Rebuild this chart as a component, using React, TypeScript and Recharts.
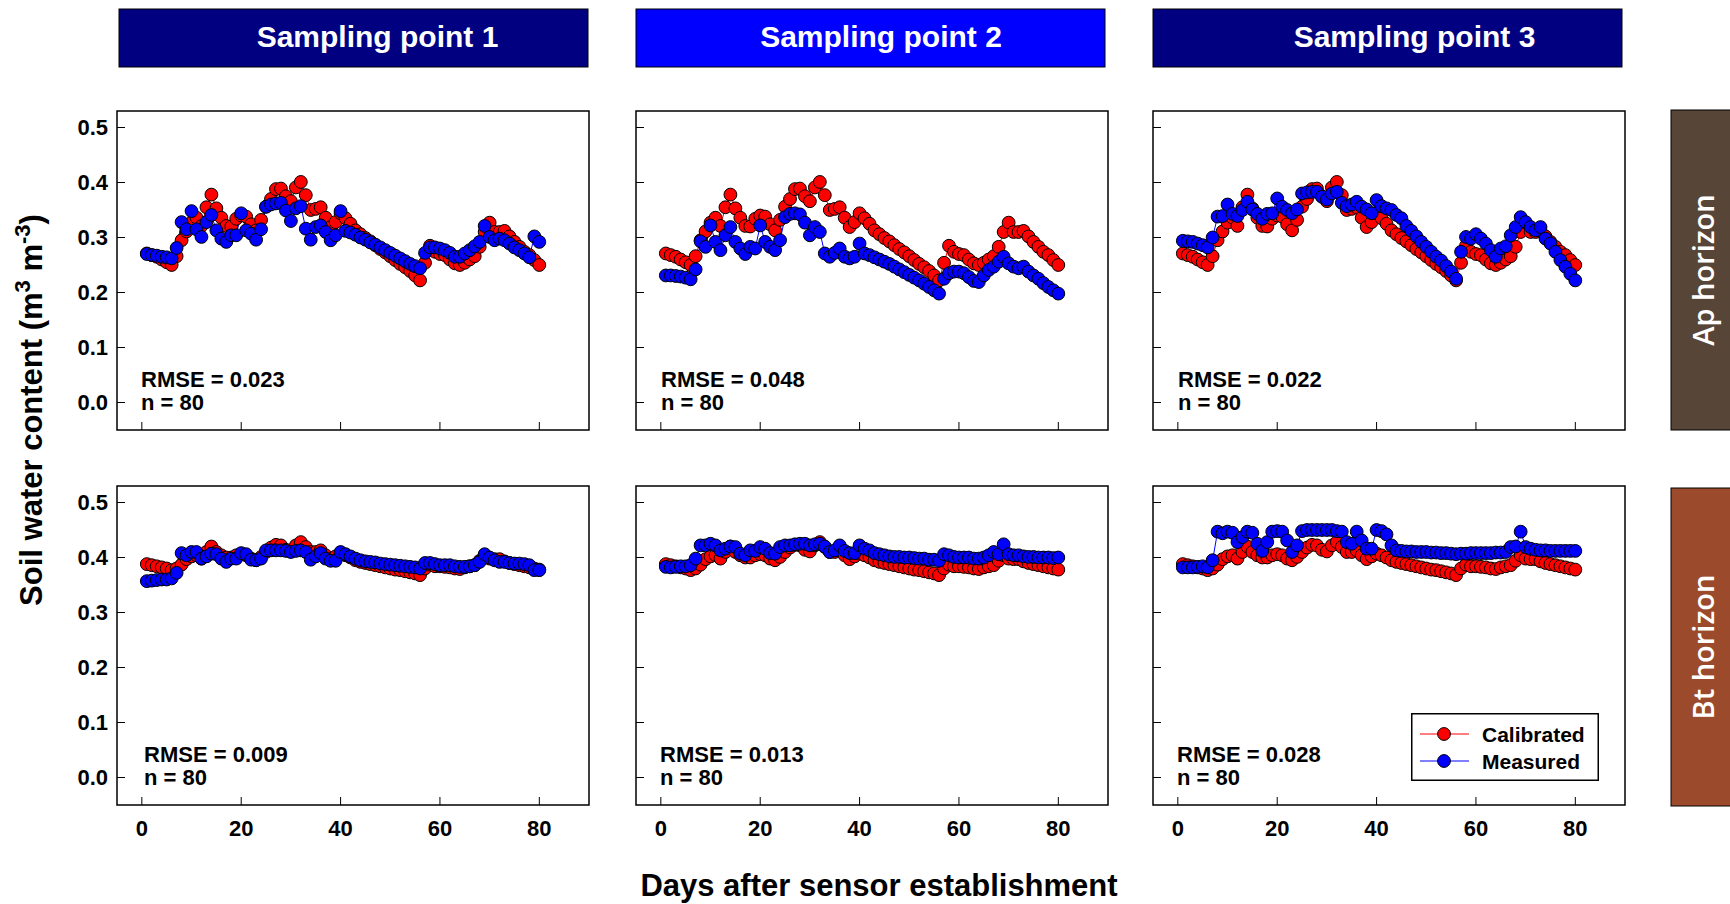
import { Legend, Line, LineChart, ReferenceArea, XAxis, YAxis } from "recharts";

// Days after sensor establishment (x values shared by every panel)
const days = Array.from({ length: 80 }, (_, i) => i + 1);
const dayTicks = [0, 20, 40, 60, 80];
const waterTicks = [0, 0.1, 0.2, 0.3, 0.4, 0.5];

const samplingPoints = ["Sampling point 1", "Sampling point 2", "Sampling point 3"];
const horizons = ["Ap horizon", "Bt horizon"];
const sampleSize = 80;
const apRmse = ["0.023", "0.048", "0.022"];
const btRmse = ["0.009", "0.013", "0.028"];

// Ap horizon, calibrated model (same curve at all three sampling points)
const apCalibrated = [
	0.271, 0.268, 0.265, 0.26, 0.255, 0.25, 0.266, 0.295, 0.311, 0.327,
	0.336, 0.321, 0.355, 0.378, 0.353, 0.336, 0.321, 0.32, 0.334, 0.34,
	0.338, 0.324, 0.313, 0.332, 0.356, 0.37, 0.388, 0.389, 0.375, 0.366,
	0.391, 0.401, 0.377, 0.35, 0.352, 0.355, 0.336, 0.319, 0.328, 0.344,
	0.335, 0.325, 0.313, 0.306, 0.299, 0.293, 0.286, 0.279, 0.273, 0.266,
	0.259, 0.252, 0.246, 0.239, 0.231, 0.222, 0.254, 0.285, 0.274, 0.27,
	0.268, 0.26, 0.253, 0.25, 0.254, 0.26, 0.266, 0.283, 0.31, 0.327,
	0.31, 0.31, 0.312, 0.302, 0.292, 0.283, 0.274, 0.268, 0.259, 0.25,
];

// Ap horizon, sensor readings
const apMeasured1 = [
	0.27, 0.268, 0.267, 0.265, 0.264, 0.262, 0.281, 0.328, 0.315, 0.348,
	0.315, 0.301, 0.328, 0.341, 0.313, 0.298, 0.292, 0.304, 0.304, 0.344,
	0.313, 0.307, 0.296, 0.315, 0.356, 0.36, 0.362, 0.363, 0.349, 0.33,
	0.353, 0.357, 0.316, 0.296, 0.319, 0.322, 0.31, 0.295, 0.304, 0.348,
	0.312, 0.309, 0.305, 0.3, 0.296, 0.291, 0.287, 0.282, 0.277, 0.272,
	0.267, 0.262, 0.257, 0.252, 0.248, 0.244, 0.272, 0.282, 0.282, 0.28,
	0.277, 0.272, 0.265, 0.265, 0.271, 0.277, 0.284, 0.292, 0.321, 0.301,
	0.295, 0.298, 0.295, 0.289, 0.282, 0.277, 0.271, 0.264, 0.302, 0.292,
];
const apMeasured2 = [
	0.231, 0.231, 0.23, 0.229, 0.227, 0.224, 0.242, 0.293, 0.283, 0.322,
	0.292, 0.277, 0.304, 0.319, 0.292, 0.28, 0.27, 0.283, 0.28, 0.322,
	0.292, 0.283, 0.277, 0.295, 0.337, 0.343, 0.344, 0.342, 0.327, 0.304,
	0.319, 0.31, 0.271, 0.265, 0.272, 0.28, 0.265, 0.262, 0.265, 0.289,
	0.271, 0.268, 0.264, 0.26, 0.256, 0.252, 0.247, 0.242, 0.237, 0.232,
	0.227, 0.222, 0.216, 0.21, 0.204, 0.198, 0.225, 0.235, 0.238, 0.238,
	0.235, 0.228, 0.221, 0.219, 0.231, 0.241, 0.247, 0.256, 0.265, 0.253,
	0.247, 0.244, 0.247, 0.238, 0.231, 0.225, 0.217, 0.21, 0.204, 0.198,
];
const apMeasured3 = [
	0.294, 0.293, 0.292, 0.289, 0.286, 0.282, 0.3, 0.338, 0.339, 0.36,
	0.343, 0.339, 0.35, 0.365, 0.351, 0.343, 0.334, 0.343, 0.344, 0.371,
	0.356, 0.35, 0.344, 0.351, 0.38, 0.382, 0.383, 0.383, 0.374, 0.369,
	0.38, 0.383, 0.363, 0.357, 0.36, 0.365, 0.356, 0.351, 0.344, 0.368,
	0.357, 0.353, 0.35, 0.341, 0.335, 0.321, 0.312, 0.302, 0.292, 0.283,
	0.274, 0.265, 0.258, 0.248, 0.238, 0.225, 0.274, 0.301, 0.298, 0.306,
	0.298, 0.289, 0.277, 0.265, 0.28, 0.284, 0.304, 0.319, 0.337, 0.328,
	0.319, 0.313, 0.319, 0.298, 0.289, 0.274, 0.259, 0.247, 0.234, 0.222,
];

// Bt horizon, calibrated model
const btCalibrated = [
	0.388, 0.386, 0.384, 0.382, 0.38, 0.377, 0.38, 0.387, 0.397, 0.402,
	0.404, 0.398, 0.41, 0.42, 0.41, 0.404, 0.4, 0.4, 0.404, 0.406,
	0.404, 0.398, 0.395, 0.401, 0.41, 0.418, 0.423, 0.422, 0.414, 0.411,
	0.422, 0.428, 0.419, 0.41, 0.41, 0.413, 0.404, 0.397, 0.402, 0.407,
	0.404, 0.4, 0.395, 0.392, 0.39, 0.388, 0.386, 0.384, 0.382, 0.38,
	0.378, 0.377, 0.375, 0.373, 0.371, 0.368, 0.38, 0.387, 0.384, 0.384,
	0.383, 0.382, 0.38, 0.379, 0.382, 0.384, 0.386, 0.394, 0.404, 0.398,
	0.397, 0.397, 0.393, 0.39, 0.388, 0.386, 0.384, 0.382, 0.38, 0.378,
];

// Bt horizon, sensor readings
const btMeasured1 = [
	0.357, 0.358, 0.359, 0.36, 0.36, 0.362, 0.372, 0.408, 0.404, 0.41,
	0.41, 0.398, 0.402, 0.407, 0.406, 0.398, 0.392, 0.398, 0.398, 0.408,
	0.406, 0.396, 0.395, 0.398, 0.413, 0.413, 0.413, 0.413, 0.412, 0.41,
	0.412, 0.413, 0.41, 0.396, 0.402, 0.408, 0.398, 0.394, 0.394, 0.41,
	0.406, 0.402, 0.398, 0.395, 0.393, 0.392, 0.391, 0.389, 0.388, 0.387,
	0.386, 0.385, 0.384, 0.383, 0.382, 0.38, 0.39, 0.39, 0.388, 0.386,
	0.386, 0.386, 0.384, 0.383, 0.383, 0.384, 0.386, 0.392, 0.406, 0.4,
	0.395, 0.392, 0.392, 0.39, 0.389, 0.389, 0.388, 0.386, 0.377, 0.377,
];
const btMeasured2 = [
	0.383, 0.382, 0.383, 0.384, 0.384, 0.386, 0.398, 0.422, 0.422, 0.425,
	0.422, 0.413, 0.416, 0.42, 0.419, 0.407, 0.404, 0.413, 0.412, 0.419,
	0.416, 0.408, 0.407, 0.419, 0.422, 0.422, 0.424, 0.425, 0.425, 0.422,
	0.424, 0.425, 0.42, 0.41, 0.413, 0.422, 0.412, 0.408, 0.408, 0.422,
	0.416, 0.413, 0.408, 0.406, 0.404, 0.402, 0.401, 0.401, 0.4, 0.4,
	0.399, 0.398, 0.398, 0.396, 0.396, 0.394, 0.406, 0.404, 0.401, 0.4,
	0.4, 0.4, 0.398, 0.398, 0.4, 0.404, 0.41, 0.406, 0.424, 0.406,
	0.404, 0.404, 0.402, 0.401, 0.401, 0.4, 0.4, 0.4, 0.399, 0.4,
];
const btMeasured3 = [
	0.382, 0.382, 0.382, 0.383, 0.384, 0.382, 0.395, 0.447, 0.444, 0.447,
	0.445, 0.428, 0.437, 0.447, 0.445, 0.425, 0.412, 0.428, 0.447, 0.448,
	0.447, 0.431, 0.41, 0.422, 0.448, 0.45, 0.45, 0.45, 0.45, 0.45,
	0.45, 0.448, 0.447, 0.428, 0.425, 0.447, 0.431, 0.416, 0.416, 0.45,
	0.448, 0.442, 0.422, 0.413, 0.412, 0.411, 0.411, 0.41, 0.41, 0.41,
	0.409, 0.409, 0.408, 0.408, 0.407, 0.406, 0.407, 0.407, 0.408, 0.408,
	0.408, 0.408, 0.408, 0.409, 0.409, 0.41, 0.419, 0.42, 0.447, 0.419,
	0.416, 0.414, 0.413, 0.413, 0.412, 0.412, 0.412, 0.412, 0.412, 0.412,
];

const panels = [
	{ row: 0, col: 0, calibrated: apCalibrated, measured: apMeasured1, rmse: apRmse[0] },
	{ row: 0, col: 1, calibrated: apCalibrated, measured: apMeasured2, rmse: apRmse[1] },
	{ row: 0, col: 2, calibrated: apCalibrated, measured: apMeasured3, rmse: apRmse[2] },
	{ row: 1, col: 0, calibrated: btCalibrated, measured: btMeasured1, rmse: btRmse[0] },
	{ row: 1, col: 1, calibrated: btCalibrated, measured: btMeasured2, rmse: btRmse[1] },
	{ row: 1, col: 2, calibrated: btCalibrated, measured: btMeasured3, rmse: btRmse[2] },
];

// layout (px)
const COL_LEFT = [117, 636, 1153];
const ROW_TOP = [111, 486];
const PLOT_W = 472;
const PLOT_H = 319;
const Y_AXIS_W = 50;
const X_AXIS_H = 44;
const PAD = 4;
const X_DOMAIN: [number, number] = [-5, 90];
const Y_DOMAIN: [number, number] = [-0.05, 0.53];
const NOTE_INSET = [
	[24, 25, 25],
	[27, 24, 24],
];
const HEADER_LEFT = [119, 636, 1153];
const HEADER_W = 469;
const HEADER_TEXT_X = [377.5, 881, 1414.5];
const DOT_R = 6.4;

const RED = "#ff0000";
const BLUE = "#0000ff";
const HEADER_FILLS = ["#000080", "#0000ff", "#000080"];
const HORIZON_FILLS = ["#574537", "#9b4a2c"];
const HORIZON_BOX = [
	{ top: 110, height: 320 },
	{ top: 488, height: 318 },
];
const FONT = "Arial, 'Liberation Sans', sans-serif";

function DayTick(props: any) {
	const { x, y, payload, showLabel } = props;
	return (
		<g>
			<line x1={x} x2={x} y1={y} y2={y - 8} stroke="#000" strokeWidth={1} />
			{showLabel && (
				<text x={x} y={y + 31} textAnchor="middle" fontSize={22} fontWeight="bold" fill="#000">
					{payload.value}
				</text>
			)}
		</g>
	);
}

function WaterTick(props: any) {
	const { x, y, payload, showLabel } = props;
	return (
		<g>
			<line x1={x} x2={x + 8} y1={y} y2={y} stroke="#000" strokeWidth={1} />
			{showLabel && (
				<text x={x - 9} y={y} dy="0.36em" textAnchor="end" fontSize={22} fontWeight="bold" fill="#000">
					{Number(payload.value).toFixed(1)}
				</text>
			)}
		</g>
	);
}

function LegendBox(props: any) {
	const items = props.payload ?? [];
	return (
		<svg width={188} height={68} style={{ display: "block", fontFamily: FONT }}>
			<rect x={0.75} y={0.75} width={186.5} height={66.5} fill="#fff" stroke="#000" strokeWidth={1.5} />
			{items.map((item: any, i: number) => {
				const cy = 21 + i * 27;
				return (
					<g key={item.value}>
						<line x1={9} x2={58} y1={cy} y2={cy} stroke={item.color} strokeWidth={1.2} />
						<circle cx={33} cy={cy} r={DOT_R} fill={item.color} stroke="#000" strokeWidth={1} />
						<text x={71} y={cy} dy="0.36em" fontSize={21} fontWeight="bold" fill="#000">
							{item.value}
						</text>
					</g>
				);
			})}
		</svg>
	);
}

function Panel({ row, col, calibrated, measured, withLegend }: any) {
	const data = days.map((day, i) => ({
		day,
		calibrated: calibrated[i],
		measured: measured[i],
	}));
	const chartW = Y_AXIS_W + PLOT_W + PAD;
	const chartH = PAD + PLOT_H + X_AXIS_H;

	return (
		<div style={{ position: "absolute", left: COL_LEFT[col] - Y_AXIS_W, top: ROW_TOP[row] - PAD }}>
			<LineChart width={chartW} height={chartH} data={data} margin={{ top: PAD, right: PAD, bottom: 0, left: 0 }}>
				<XAxis
					dataKey="day"
					type="number"
					domain={X_DOMAIN}
					ticks={dayTicks}
					interval={0}
					height={X_AXIS_H}
					axisLine={false}
					tickLine={false}
					tickSize={0}
					tickMargin={0}
					tick={(p: any) => <DayTick {...p} showLabel={row === 1} />}
				/>
				<YAxis
					type="number"
					domain={Y_DOMAIN}
					ticks={waterTicks}
					interval={0}
					width={Y_AXIS_W}
					axisLine={false}
					tickLine={false}
					tickSize={0}
					tickMargin={0}
					tick={(p: any) => <WaterTick {...p} showLabel={col === 0} />}
				/>
				<ReferenceArea
					x1={X_DOMAIN[0]}
					x2={X_DOMAIN[1]}
					y1={Y_DOMAIN[0]}
					y2={Y_DOMAIN[1]}
					ifOverflow="visible"
					fill="none"
					stroke="#000"
					strokeWidth={1.5}
				/>
				<Line
					name="Calibrated"
					dataKey="calibrated"
					stroke={RED}
					strokeWidth={1}
					dot={{ r: DOT_R, fill: RED, stroke: "#000", strokeWidth: 1 }}
					activeDot={false}
					isAnimationActive={false}
				/>
				<Line
					name="Measured"
					dataKey="measured"
					stroke={BLUE}
					strokeWidth={1}
					dot={{ r: DOT_R, fill: BLUE, stroke: "#000", strokeWidth: 1 }}
					activeDot={false}
					isAnimationActive={false}
				/>
				{withLegend && (
					<Legend
						layout="horizontal"
						verticalAlign="middle"
						align="center"
						content={<LegendBox />}
						wrapperStyle={{ left: 308, top: 231, width: 188, height: 68 }}
					/>
				)}
			</LineChart>
		</div>
	);
}

export default function App() {
	return (
		<div
			style={{
				position: "absolute",
				left: 0,
				top: 0,
				width: 1730,
				height: 904,
				background: "#fff",
				overflow: "hidden",
				fontFamily: FONT,
			}}
		>
			<svg width={1730} height={904} style={{ position: "absolute", left: 0, top: 0 }}>
				{/* column headers */}
				{samplingPoints.map((label, i) => (
					<g key={label}>
						<rect
							x={HEADER_LEFT[i]}
							y={9}
							width={HEADER_W}
							height={58}
							fill={HEADER_FILLS[i]}
							stroke="#000"
							strokeWidth={1}
						/>
						<text x={HEADER_TEXT_X[i]} y={46.5} textAnchor="middle" fontSize={30} fontWeight="bold" fill="#fff">
							{label}
						</text>
					</g>
				))}

				{/* horizon strips */}
				{horizons.map((label, i) => {
					const box = HORIZON_BOX[i];
					return (
						<g key={label}>
							<rect
								x={1671}
								y={box.top}
								width={62}
								height={box.height}
								fill={HORIZON_FILLS[i]}
								stroke="#000"
								strokeWidth={1}
							/>
							<text
								transform={`translate(1704, ${box.top + box.height / 2}) rotate(-90)`}
								dy="0.36em"
								textAnchor="middle"
								fontSize={29}
								fontWeight={600}
								fontFamily="'Open Sans', sans-serif"
								fill="#fff"
							>
								{label}
							</text>
						</g>
					);
				})}

				{/* axis titles */}
				<text transform="translate(31, 410) rotate(-90)" dy="0.36em" textAnchor="middle" fontSize={31} fontWeight="bold">
					Soil water content (m
					<tspan dy={-12} fontSize={22}>3</tspan>
					<tspan dy={12}> m</tspan>
					<tspan dy={-12} fontSize={22}>-3</tspan>
					<tspan dy={12}>)</tspan>
				</text>
				<text x={879} y={896} textAnchor="middle" fontSize={31} fontWeight="bold">
					Days after sensor establishment
				</text>

				{/* fit statistics */}
				{panels.map((p) => {
					const x = COL_LEFT[p.col] + NOTE_INSET[p.row][p.col];
					const y = ROW_TOP[p.row];
					return (
						<g key={`${p.row}-${p.col}`} fontSize={22} fontWeight="bold">
							<text x={x} y={y + 276}>RMSE = {p.rmse}</text>
							<text x={x} y={y + 299}>n = {sampleSize}</text>
						</g>
					);
				})}
			</svg>

			{panels.map((p) => (
				<Panel key={`${p.row}-${p.col}`} {...p} withLegend={p.row === 1 && p.col === 2} />
			))}
		</div>
	);
}
